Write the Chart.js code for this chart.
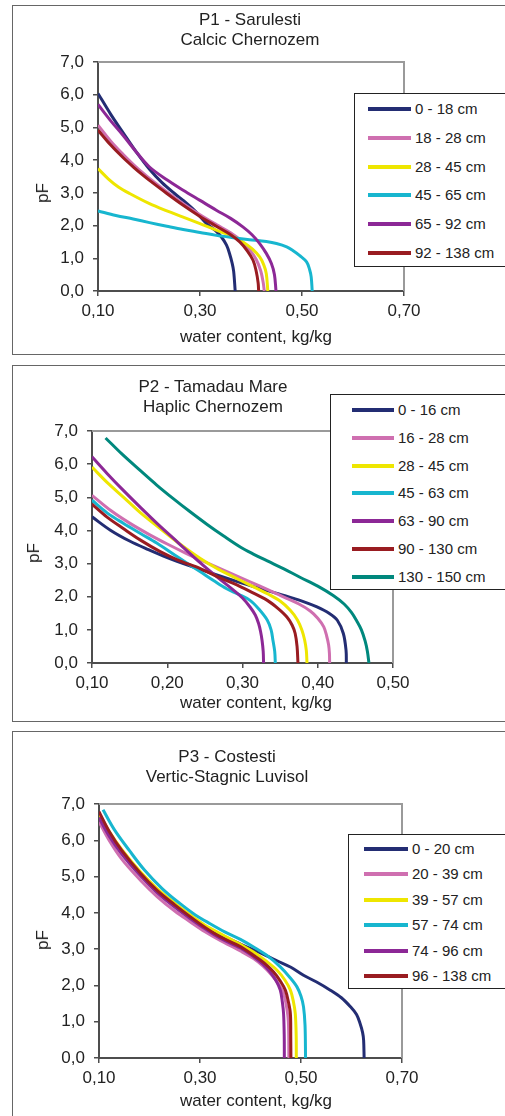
<!DOCTYPE html>
<html>
<head>
<meta charset="utf-8">
<script src="https://cdn.jsdelivr.net/npm/chart.js@4.4.0/dist/chart.umd.min.js"></script>
<style>
  body { margin: 0; width: 505px; height: 1116px; overflow: hidden; background: #fff; position: relative;
         font-family: "Liberation Sans", Arial, sans-serif; color: #222; }
  .frame { position: absolute; left: 12px; right: -20px; border: 1px solid #666; }
  canvas { position: absolute; left: 0; }
  .ttl { position: absolute; font-size: 17px; text-align: center; white-space: nowrap; line-height: 20px; }
  .ylab { position: absolute; font-size: 17px; transform: translate(-50%, -50%) rotate(-90deg); }
  .legend { position: absolute; border: 1px solid #222; background: #fff; width: 200px; }
  .legend .row { position: absolute; height: 20px; line-height: 20px; font-size: 15px; white-space: nowrap; }
  .legend .swatch { position: absolute; height: 4px; }
</style>
</head>
<body>
<div class="frame" style="top:5px;height:348px;"></div>
<div class="frame" style="top:365px;height:355px;"></div>
<div class="frame" style="top:731px;height:420px;"></div>

<canvas id="c1" width="505" height="360" style="top:0px;"></canvas>
<canvas id="c2" width="505" height="365" style="top:360px;"></canvas>
<canvas id="c3" width="505" height="391" style="top:725px;"></canvas>

<div class="ttl" style="left:150px;width:200px;top:10px;">P1 - Sarulesti<br>Calcic Chernozem</div>
<div class="ttl" style="left:113px;width:200px;top:377px;">P2 - Tamadau Mare<br>Haplic Chernozem</div>
<div class="ttl" style="left:127px;width:200px;top:747px;">P3 - Costesti<br>Vertic-Stagnic Luvisol</div>

<div class="ylab" style="left:43px;top:193px;">pF</div>
<div class="ylab" style="left:34px;top:553px;">pF</div>
<div class="ylab" style="left:43px;top:940px;">pF</div>

<div class="ttl" style="left:156px;width:200px;top:327px;">water content, kg/kg</div>
<div class="ttl" style="left:156px;width:200px;top:693px;">water content, kg/kg</div>
<div class="ttl" style="left:156px;width:200px;top:1091px;">water content, kg/kg</div>

<div class="legend" id="lg1" style="left:354px;top:93px;height:172px;"></div>
<div class="legend" id="lg2" style="left:330px;top:394px;height:194px;"></div>
<div class="legend" id="lg3" style="left:348px;top:834px;height:153px;"></div>

<script>
// pF curves (water retention)
// shared tick labels
var pfTickValues = [0, 1, 2, 3, 4, 5, 6, 7];
var pfTickLabels = ['0,0', '1,0', '2,0', '3,0', '4,0', '5,0', '6,0', '7,0'];

// ---- P1 Sarulesti ----
var p1XTickValues = [0.1, 0.3, 0.5, 0.7];
var p1XTickLabels = ['0,10', '0,30', '0,50', '0,70'];
var p1Labels = ['0 - 18 cm', '18 - 28 cm', '28 - 45 cm', '45 - 65 cm', '65 - 92 cm', '92 - 138 cm'];

var p1_a_wc = [0.100, 0.125, 0.150, 0.175, 0.201, 0.225, 0.250, 0.267, 0.290, 0.313, 0.330, 0.342, 0.352, 0.358, 0.363, 0.366, 0.369];
var p1_a_pf = [6.04, 5.40, 4.82, 4.25, 3.72, 3.32, 2.98, 2.77, 2.45, 2.06, 1.85, 1.65, 1.40, 1.14, 0.85, 0.60, 0.00];
var p1_b_wc = [0.100, 0.125, 0.149, 0.170, 0.188, 0.201, 0.235, 0.267, 0.300, 0.332, 0.360, 0.382, 0.398, 0.410, 0.419, 0.424, 0.426];
var p1_b_pf = [5.07, 4.58, 4.18, 3.86, 3.61, 3.44, 3.03, 2.67, 2.33, 2.03, 1.78, 1.52, 1.25, 0.97, 0.62, 0.25, 0.00];
var p1_c_wc = [0.100, 0.120, 0.140, 0.162, 0.201, 0.235, 0.267, 0.300, 0.332, 0.360, 0.384, 0.403, 0.417, 0.425, 0.430, 0.433];
var p1_c_pf = [3.74, 3.43, 3.18, 2.98, 2.67, 2.45, 2.26, 2.06, 1.86, 1.70, 1.50, 1.28, 1.04, 0.80, 0.53, 0.00];
var p1_d_wc = [0.100, 0.135, 0.169, 0.201, 0.235, 0.267, 0.300, 0.332, 0.365, 0.397, 0.430, 0.450, 0.470, 0.482, 0.495, 0.509, 0.515, 0.518, 0.520];
var p1_d_pf = [2.45, 2.31, 2.20, 2.09, 1.98, 1.88, 1.79, 1.70, 1.63, 1.57, 1.51, 1.45, 1.35, 1.24, 1.09, 0.89, 0.65, 0.43, 0.00];
var p1_e_wc = [0.100, 0.125, 0.149, 0.175, 0.201, 0.235, 0.267, 0.300, 0.332, 0.360, 0.384, 0.402, 0.417, 0.430, 0.440, 0.446, 0.449];
var p1_e_pf = [5.70, 5.20, 4.76, 4.25, 3.79, 3.40, 3.08, 2.77, 2.47, 2.22, 1.96, 1.72, 1.45, 1.15, 0.84, 0.50, 0.00];
var p1_f_wc = [0.100, 0.125, 0.149, 0.170, 0.188, 0.201, 0.235, 0.267, 0.300, 0.332, 0.358, 0.378, 0.393, 0.404, 0.410, 0.414, 0.415];
var p1_f_pf = [4.92, 4.46, 4.08, 3.78, 3.54, 3.38, 2.98, 2.62, 2.28, 1.98, 1.74, 1.50, 1.22, 0.94, 0.62, 0.25, 0.00];

// ---- P2 Tamadau Mare ----
var p2XTickValues = [0.1, 0.2, 0.3, 0.4, 0.5];
var p2XTickLabels = ['0,10', '0,20', '0,30', '0,40', '0,50'];
var p2Labels = ['0 - 16 cm', '16 - 28 cm', '28 - 45 cm', '45 - 63 cm', '63 - 90 cm', '90 - 130 cm', '130 - 150 cm'];

var p2_a_wc = [0.100, 0.125, 0.150, 0.175, 0.200, 0.230, 0.260, 0.290, 0.320, 0.355, 0.380, 0.399, 0.415, 0.426, 0.434, 0.4376, 0.438];
var p2_a_pf = [4.41, 4.00, 3.68, 3.42, 3.18, 2.93, 2.70, 2.48, 2.27, 2.04, 1.86, 1.69, 1.50, 1.29, 0.89, 0.38, 0.00];
var p2_b_wc = [0.100, 0.125, 0.150, 0.175, 0.200, 0.225, 0.250, 0.280, 0.310, 0.335, 0.355, 0.375, 0.390, 0.400, 0.408, 0.412, 0.4144, 0.4155, 0.4158];
var p2_b_pf = [5.06, 4.60, 4.22, 3.89, 3.59, 3.31, 3.05, 2.75, 2.45, 2.20, 1.99, 1.78, 1.57, 1.35, 1.09, 0.80, 0.55, 0.30, 0.00];
var p2_c_wc = [0.100, 0.120, 0.142, 0.165, 0.186, 0.215, 0.244, 0.266, 0.288, 0.310, 0.333, 0.350, 0.3635, 0.373, 0.379, 0.3825, 0.3848, 0.3857];
var p2_c_pf = [5.91, 5.45, 5.00, 4.52, 4.14, 3.62, 3.15, 2.85, 2.60, 2.35, 2.09, 1.87, 1.59, 1.30, 0.99, 0.70, 0.38, 0.00];
var p2_d_wc = [0.100, 0.120, 0.142, 0.165, 0.186, 0.215, 0.244, 0.262, 0.279, 0.295, 0.310, 0.322, 0.333, 0.338, 0.3405, 0.3428, 0.3436];
var p2_d_pf = [4.91, 4.53, 4.21, 3.90, 3.62, 3.18, 2.75, 2.48, 2.24, 2.07, 1.89, 1.62, 1.29, 1.00, 0.68, 0.35, 0.00];
var p2_e_wc = [0.100, 0.120, 0.142, 0.165, 0.186, 0.215, 0.244, 0.266, 0.288, 0.300, 0.310, 0.317, 0.3214, 0.324, 0.326, 0.3275, 0.328];
var p2_e_pf = [6.22, 5.72, 5.20, 4.68, 4.22, 3.62, 3.02, 2.60, 2.20, 1.96, 1.69, 1.45, 1.19, 0.95, 0.68, 0.35, 0.00];
var p2_f_wc = [0.100, 0.120, 0.142, 0.165, 0.190, 0.215, 0.244, 0.265, 0.288, 0.310, 0.333, 0.347, 0.359, 0.366, 0.370, 0.3725, 0.3737];
var p2_f_pf = [4.79, 4.40, 4.05, 3.70, 3.37, 3.10, 2.85, 2.62, 2.40, 2.16, 1.89, 1.65, 1.39, 1.14, 0.89, 0.50, 0.00];
var p2_g_wc = [0.118, 0.140, 0.164, 0.186, 0.208, 0.230, 0.253, 0.275, 0.297, 0.315, 0.333, 0.355, 0.377, 0.400, 0.421, 0.435, 0.445, 0.452, 0.458, 0.463, 0.466, 0.468];
var p2_g_pf = [6.79, 6.30, 5.81, 5.37, 4.96, 4.57, 4.18, 3.83, 3.50, 3.28, 3.08, 2.84, 2.58, 2.32, 2.03, 1.78, 1.52, 1.26, 1.00, 0.66, 0.35, 0.00];

// ---- P3 Costesti ----
var p3XTickValues = [0.1, 0.3, 0.5, 0.7];
var p3XTickLabels = ['0,10', '0,30', '0,50', '0,70'];
var p3Labels = ['0 - 20 cm', '20 - 39 cm', '39 - 57 cm', '57 - 74 cm', '74 - 96 cm', '96 - 138 cm'];

var p3_a_wc = [0.100, 0.120, 0.145, 0.182, 0.215, 0.250, 0.281, 0.310, 0.340, 0.380, 0.406, 0.430, 0.4525, 0.480, 0.505, 0.530, 0.558, 0.580, 0.598, 0.610, 0.617, 0.622, 0.624, 0.625];
var p3_a_pf = [6.68, 6.18, 5.68, 5.07, 4.62, 4.22, 3.90, 3.62, 3.40, 3.14, 2.98, 2.83, 2.68, 2.50, 2.28, 2.10, 1.87, 1.66, 1.41, 1.20, 0.95, 0.70, 0.49, 0.00];
var p3_b_wc = [0.100, 0.120, 0.145, 0.182, 0.215, 0.250, 0.281, 0.310, 0.340, 0.380, 0.406, 0.425, 0.441, 0.455, 0.465, 0.471, 0.475, 0.476];
var p3_b_pf = [6.51, 6.00, 5.48, 4.90, 4.45, 4.05, 3.75, 3.48, 3.24, 2.95, 2.74, 2.53, 2.30, 2.05, 1.80, 1.45, 1.00, 0.00];
var p3_c_wc = [0.100, 0.120, 0.145, 0.182, 0.215, 0.250, 0.281, 0.310, 0.340, 0.380, 0.406, 0.430, 0.4525, 0.468, 0.479, 0.485, 0.4887, 0.4905, 0.4907];
var p3_c_pf = [6.74, 6.25, 5.75, 5.13, 4.67, 4.27, 3.94, 3.66, 3.43, 3.13, 2.92, 2.68, 2.42, 2.15, 1.87, 1.55, 1.22, 0.60, 0.00];
var p3_d_wc = [0.108, 0.130, 0.160, 0.190, 0.225, 0.260, 0.290, 0.320, 0.350, 0.380, 0.406, 0.435, 0.459, 0.478, 0.492, 0.500, 0.505, 0.508, 0.509];
var p3_d_pf = [6.84, 6.30, 5.72, 5.18, 4.67, 4.26, 3.95, 3.70, 3.47, 3.27, 3.06, 2.80, 2.51, 2.22, 1.96, 1.70, 1.41, 0.90, 0.00];
var p3_e_wc = [0.100, 0.120, 0.145, 0.182, 0.215, 0.250, 0.281, 0.310, 0.340, 0.380, 0.406, 0.425, 0.439, 0.451, 0.459, 0.463, 0.4655, 0.4668, 0.467];
var p3_e_pf = [6.62, 6.12, 5.62, 5.02, 4.56, 4.16, 3.84, 3.56, 3.30, 3.03, 2.79, 2.58, 2.37, 2.12, 1.87, 1.55, 1.22, 0.60, 0.00];
var p3_f_wc = [0.100, 0.120, 0.145, 0.182, 0.215, 0.250, 0.281, 0.310, 0.340, 0.380, 0.406, 0.428, 0.4458, 0.459, 0.469, 0.475, 0.479, 0.4797, 0.480];
var p3_f_pf = [6.79, 6.25, 5.72, 5.09, 4.62, 4.22, 3.89, 3.60, 3.34, 3.07, 2.83, 2.61, 2.37, 2.12, 1.87, 1.55, 1.22, 0.60, 0.00];

// line colours (Excel style)
var NAVY = '#232d73', PINK = '#cf6fb0', YELLOW = '#eee600', CYAN = '#17b6cf',
    PURPLE = '#8c2896', MAROON = '#991c21', TEAL = '#00887d';

function pts(wc, pf) {
    var out = [];
    for (var i = 0; i < wc.length; i++) out.push({ x: wc[i], y: pf[i] });
    return out;
}

// plot frame: gray top and right edges
var framePlugin = {
    id: 'frame',
    afterDraw: function (chart) {
        var a = chart.chartArea, ctx = chart.ctx;
        ctx.save();
        ctx.strokeStyle = '#9a9a9a';
        ctx.lineWidth = 2;
        ctx.beginPath();
        ctx.moveTo(a.left, a.top);
        ctx.lineTo(a.right, a.top);
        ctx.lineTo(a.right, a.bottom);
        ctx.stroke();
        ctx.restore();
    }
};

function makeChart(id, series, colors, xMin, xMax, xTickValues, xTickLabels, pad, yWidth) {
    var n = series.length;
    var datasets = series.map(function (s, i) {
        return {
            data: pts(s[0], s[1]),
            borderColor: colors[i],
            borderWidth: 3,
            showLine: true,
            pointRadius: 0,
            tension: 0.35,
            fill: false,
            order: n - i // later series drawn on top
        };
    });
    var tickFont = { family: "'Liberation Sans', Arial, sans-serif", size: 17 };
    return new Chart(document.getElementById(id), {
        type: 'scatter',
        data: { datasets: datasets },
        plugins: [framePlugin],
        options: {
            responsive: false,
            animation: false,
            layout: { padding: pad },
            plugins: { legend: { display: false }, tooltip: { enabled: false } },
            scales: {
                x: {
                    type: 'linear', min: xMin, max: xMax,
                    afterBuildTicks: function (scale) {
                        scale.ticks = xTickValues.map(function (v) { return { value: v }; });
                    },
                    afterFit: function (scale) { scale.height = 40; },
                    ticks: {
                        color: '#222', font: tickFont, padding: 5, maxRotation: 0, autoSkip: false,
                        callback: function (v, i) { return xTickLabels[i]; }
                    },
                    grid: { drawOnChartArea: false, drawTicks: true, tickLength: 5, color: '#4d4d4d', lineWidth: 1.5 },
                    border: { color: '#4d4d4d', width: 2 }
                },
                y: {
                    type: 'linear', min: 0, max: 7,
                    afterBuildTicks: function (scale) {
                        scale.ticks = pfTickValues.map(function (v) { return { value: v }; });
                    },
                    afterFit: function (scale) { scale.width = yWidth; },
                    ticks: {
                        color: '#222', font: tickFont, padding: 9, autoSkip: false,
                        callback: function (v, i) { return pfTickLabels[i]; }
                    },
                    grid: { drawOnChartArea: false, drawTicks: true, tickLength: 5, color: '#4d4d4d', lineWidth: 1.5 },
                    border: { color: '#4d4d4d', width: 2 }
                }
            }
        }
    });
}

function makeLegend(id, labels, colors, lineLeft, lineWidth, textLeft, firstRow, rowStep) {
    var box = document.getElementById(id);
    labels.forEach(function (lab, i) {
        var cy = firstRow + i * rowStep;
        var sw = document.createElement('div');
        sw.className = 'swatch';
        sw.style.left = lineLeft + 'px';
        sw.style.width = lineWidth + 'px';
        sw.style.top = (cy - 2) + 'px';
        sw.style.background = colors[i];
        box.appendChild(sw);
        var row = document.createElement('div');
        row.className = 'row';
        row.style.left = textLeft + 'px';
        row.style.top = (cy - 10) + 'px';
        row.textContent = lab;
        box.appendChild(row);
    });
}

var p1Colors = [NAVY, PINK, YELLOW, CYAN, PURPLE, MAROON];
var p2Colors = [NAVY, PINK, YELLOW, CYAN, PURPLE, MAROON, TEAL];
var p3Colors = [NAVY, PINK, YELLOW, CYAN, PURPLE, MAROON];

makeChart('c1',
    [[p1_a_wc, p1_a_pf], [p1_b_wc, p1_b_pf], [p1_c_wc, p1_c_pf], [p1_d_wc, p1_d_pf], [p1_e_wc, p1_e_pf], [p1_f_wc, p1_f_pf]],
    p1Colors, 0.1, 0.7, p1XTickValues, p1XTickLabels,
    { left: 0, top: 62, right: 101, bottom: 29 }, 98);

makeChart('c2',
    [[p2_a_wc, p2_a_pf], [p2_b_wc, p2_b_pf], [p2_c_wc, p2_c_pf], [p2_d_wc, p2_d_pf], [p2_e_wc, p2_e_pf], [p2_f_wc, p2_f_pf], [p2_g_wc, p2_g_pf]],
    p2Colors, 0.1, 0.5, p2XTickValues, p2XTickLabels,
    { left: 0, top: 71, right: 112, bottom: 22 }, 92);

makeChart('c3',
    [[p3_a_wc, p3_a_pf], [p3_b_wc, p3_b_pf], [p3_c_wc, p3_c_pf], [p3_d_wc, p3_d_pf], [p3_e_wc, p3_e_pf], [p3_f_wc, p3_f_pf]],
    p3Colors, 0.1, 0.7, p3XTickValues, p3XTickLabels,
    { left: 0, top: 79, right: 103, bottom: 18 }, 99);

makeLegend('lg1', p1Labels, p1Colors, 13, 43, 60, 15, 28.8);
makeLegend('lg2', p2Labels, p2Colors, 21, 42, 67, 15, 27.8);
makeLegend('lg3', p3Labels, p3Colors, 15, 44, 63, 14, 25.4);
</script>
</body>
</html>
